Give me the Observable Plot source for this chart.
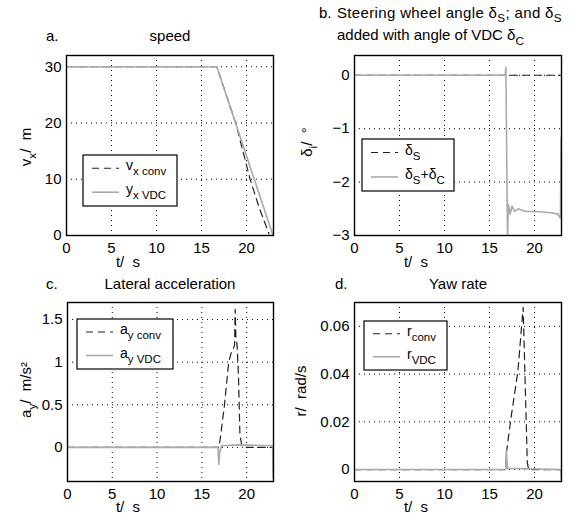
<!DOCTYPE html>
<html><head><meta charset="utf-8">
<script src="https://cdn.jsdelivr.net/npm/d3@7"></script>
<script src="https://cdn.jsdelivr.net/npm/@observablehq/plot@0.6"></script>
<style>
body{margin:0;background:#fff;}
#chart{position:relative;width:571px;height:518px;background:#fff;overflow:hidden;}
#chart svg{position:absolute;left:0;top:0;}
</style></head><body><div id="chart"></div>
<script>
// ---------- data ----------
const timeTicks = [0, 5, 10, 15, 20];

// a. speed
const speedConvT = [0, 16.7, 18.8, 19.6, 20.4, 21.4, 22.5];
const speedConvV = [30, 30, 20, 15, 10, 5, 0.3];
const speedVdcT  = [0, 16.7, 22.95];
const speedVdcV  = [30, 30, 0];
const speedTicks = [0, 10, 20, 30];

// b. steering angle
const steerT    = [0, 23];
const steerD    = [0, 0];
const steerVdcT = [0, 16.75, 16.82, 17.0, 17.1, 17.3, 17.5, 17.8, 18.2, 19, 20, 21, 22, 22.6, 22.88, 22.96];
const steerVdcD = [0, 0, 0.15, -3.0, -2.42, -2.6, -2.45, -2.55, -2.5, -2.55, -2.55, -2.56, -2.58, -2.6, -2.68, -1.16];
const steerTicks = [-3, -2, -1, 0];

// c. lateral acceleration
const latConvT = [0, 16.9, 17.05, 17.5, 18.0, 18.3, 18.55, 18.65, 18.72, 18.8, 18.95, 19.1, 19.25, 19.45, 20, 23];
const latConvA = [0, 0, 0.1, 0.47, 1.0, 1.12, 1.17, 1.2, 1.62, 1.3, 1.18, 0.8, 0.15, 0.03, 0, 0];
const latVdcT  = [0, 16.8, 16.9, 17.0, 17.2, 19.3, 22.9, 22.96];
const latVdcA  = [0, 0, -0.2, -0.05, 0.02, 0.03, 0.02, -0.36];
const latTicks = [0, 0.5, 1, 1.5];

// d. yaw rate
const yawConvT = [0, 16.8, 16.88, 17.4, 18.15, 18.74, 19.2, 19.35, 23];
const yawConvR = [0, 0, 0.007, 0.022, 0.041, 0.068, 0.003, 0, 0];
const yawVdcT  = [0, 16.8, 16.87, 17.0, 22.92, 22.97];
const yawVdcR  = [0, 0, 0.008, 0.0005, 0, -0.004];
const yawTicks = [0, 0.02, 0.04, 0.06];

// ---------- layout ----------
const W = 571, H = 518;
const FONT = "'Liberation Sans', Arial, Helvetica, sans-serif";
const FS = 15;
const CONV = {stroke: "#222", strokeWidth: 1.2, strokeDasharray: "7,5"};
const VDC = {stroke: "#aaa", strokeWidth: 1.6};
const minus = v => (v < 0 ? "\u2212" + Math.abs(v) : String(v));

const chart = document.getElementById("chart");
const pts = (t, v) => t.map((x, i) => ({t: x, v: v[i]}));

function panel({frame: [l, t, r, b], yDomain, yTicks, yFormat = minus, conv, vdc}) {
  const svg = Plot.plot({
    width: W, height: H,
    marginLeft: l, marginTop: t, marginRight: W - r, marginBottom: H - b,
    style: `background:transparent;font-family:${FONT};font-size:${FS}px;overflow:visible;`,
    x: {domain: [0, 23]},
    y: {domain: yDomain},
    marks: [
      Plot.gridX(timeTicks.filter(d => d > 0), {stroke: "#000", strokeOpacity: 1, strokeWidth: 1, strokeDasharray: "1,4"}),
      Plot.gridY(yTicks, {stroke: "#000", strokeOpacity: 1, strokeWidth: 1, strokeDasharray: "1,4"}),
      Plot.line(conv, {x: "t", y: "v", ...CONV, clip: true}),
      Plot.line(vdc, {x: "t", y: "v", ...VDC, clip: true}),
      Plot.axisX(timeTicks, {tickSize: 0, tickPadding: 7, fontSize: FS, label: null, tickFormat: minus}),
      Plot.axisY(yTicks, {tickSize: 0, tickPadding: 5, fontSize: FS, label: null, tickFormat: yFormat}),
      Plot.frame({stroke: "#000", strokeWidth: 1.4})
    ]
  });
  chart.appendChild(svg);
  return svg;
}

function txt(svg, x, y, parts, {anchor = "start", size = FS, rotate = false, sub = 0.78, drop = 0.35, spacing = 0} = {}) {
  const t = d3.select(svg).append("text")
    .attr("font-size", size).attr("font-family", FONT)
    .attr("text-anchor", anchor).attr("fill", "#000");
  if (spacing) t.attr("letter-spacing", spacing);
  if (rotate) t.attr("transform", `translate(${x},${y}) rotate(-90)`);
  else t.attr("x", x).attr("y", y);
  let shift = 0;
  for (const [s, kind] of parts) {
    const target = kind === "sub" ? Math.round(size * drop) : 0;
    const ts = t.append("tspan").text(s).attr("dy", target - shift);
    if (kind === "sub") ts.attr("font-size", size * sub);
    shift = target;
  }
}

function legend(svg, [x0, y0, x1, y1], entries) {
  const g = d3.select(svg).append("g");
  g.append("rect").attr("x", x0).attr("y", y0).attr("width", x1 - x0).attr("height", y1 - y0)
    .attr("fill", "#fff").attr("stroke", "#000").attr("stroke-width", 1.2);
  const h = (y1 - y0);
  entries.forEach(([style, parts], i) => {
    const yy = y0 + h * (i === 0 ? 0.26 : 0.73);
    g.append("line").attr("x1", x0 + 9).attr("x2", x0 + 36).attr("y1", yy).attr("y2", yy)
      .attr("stroke", style.stroke).attr("stroke-width", style.strokeWidth)
      .attr("stroke-dasharray", style.strokeDasharray || null);
    txt(svg, x0 + 43, yy + 2, parts, {size: 14, sub: 0.82});
  });
}

// ---------- a ----------
const a = panel({frame: [66, 55, 273, 235], yDomain: [0, 32], yTicks: speedTicks,
  conv: pts(speedConvT, speedConvV), vdc: pts(speedVdcT, speedVdcV)});
txt(a, 46, 41, [["a."]]);
txt(a, 170, 41, [["speed"]], {anchor: "middle"});
txt(a, 31, 147, [["v"], ["x", "sub"], ["/  m"]], {anchor: "middle", rotate: true});
txt(a, 128, 267, [["t/  s"]], {anchor: "middle"});
legend(a, [83, 155, 177, 206], [[CONV, [["v"], ["x conv", "sub"]]], [VDC, [["y"], ["x VDC", "sub"]]]]);

// ---------- b ----------
const b = panel({frame: [354, 55, 561, 235], yDomain: [-3, 0.37], yTicks: steerTicks,
  conv: pts(steerT, steerD), vdc: pts(steerVdcT, steerVdcD)});
txt(b, 319, 18, [["b."]]);
txt(b, 337, 18, [["Steering wheel angle δ"], ["S", "sub"], ["; and δ"], ["S", "sub"]], {drop: 0.27, spacing: 0.35});
txt(b, 337, 40, [["added with angle of VDC δ"], ["C", "sub"]], {drop: 0.3});
txt(b, 312, 142, [["δ"], ["i", "sub"], ["/  °"]], {anchor: "middle", rotate: true});
txt(b, 416, 267, [["t/  s"]], {anchor: "middle"});
legend(b, [362, 139, 454, 191], [[CONV, [["δ"], ["S", "sub"]]], [VDC, [["δ"], ["S", "sub"], ["+δ"], ["C", "sub"]]]]);

// ---------- c ----------
const c = panel({frame: [67, 302, 273, 481], yDomain: [-0.4, 1.7], yTicks: latTicks,
  conv: pts(latConvT, latConvA), vdc: pts(latVdcT, latVdcA)});
txt(c, 46, 289, [["c."]]);
txt(c, 170, 289, [["Lateral acceleration"]], {anchor: "middle"});
txt(c, 31, 390, [["a"], ["y", "sub"], ["/  m/s²"]], {anchor: "middle", rotate: true});
txt(c, 128, 512, [["t/  s"]], {anchor: "middle"});
legend(c, [77, 319, 173, 369], [[CONV, [["a"], ["y conv", "sub"]]], [VDC, [["a"], ["y VDC", "sub"]]]]);

// ---------- d ----------
const d = panel({frame: [354, 302, 561, 481], yDomain: [-0.005, 0.07], yTicks: yawTicks,
  yFormat: v => v === 0 ? "0" : v.toFixed(2),
  conv: pts(yawConvT, yawConvR), vdc: pts(yawVdcT, yawVdcR)});
txt(d, 335, 289, [["d."]]);
txt(d, 458, 289, [["Yaw rate"]], {anchor: "middle"});
txt(d, 306, 391, [["r/  rad/s"]], {anchor: "middle", rotate: true});
txt(d, 416, 512, [["t/  s"]], {anchor: "middle"});
legend(d, [364, 321, 447, 370], [[CONV, [["r"], ["conv", "sub"]]], [VDC, [["r"], ["VDC", "sub"]]]]);
</script></body></html>
